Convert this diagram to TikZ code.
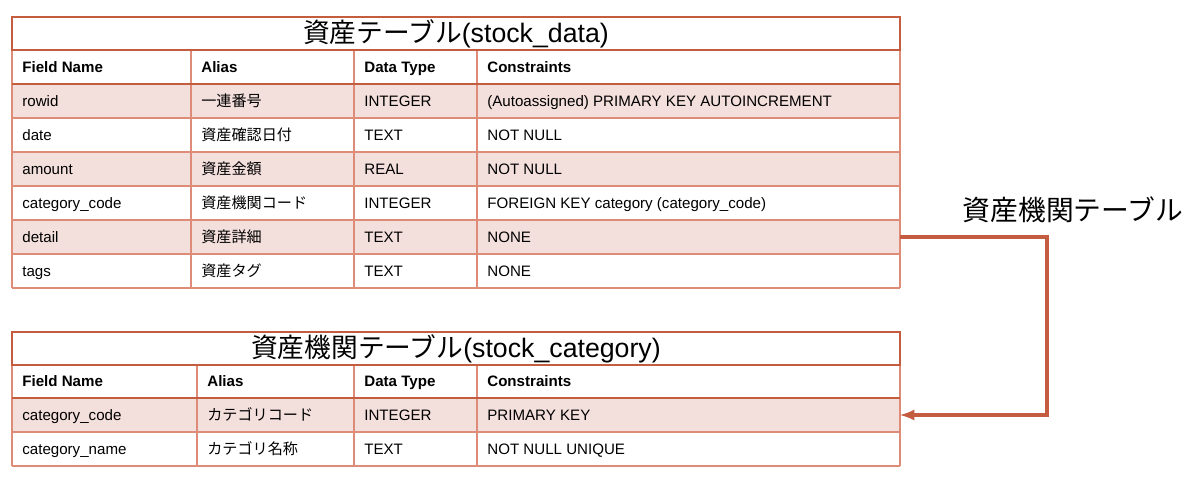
\documentclass[tikz,border=0pt]{standalone}
\usepackage{fontspec}
\setmainfont{Liberation Sans}
\newfontfamily\cjk{Noto Sans CJK JP}
\definecolor{edge}{RGB}{196,92,64}
\definecolor{rowline}{RGB}{222,140,120}
\definecolor{rowfill}{RGB}{243,223,220}
\begin{document}
\begin{tikzpicture}[x=0.02cm,y=-0.02cm]
% Styles ---
\tikzstyle{cell} = [anchor = west, inner sep = 0pt, text height = 1.6ex, text depth = 0.4ex, font = \fontsize{8.6}{10}\selectfont]
\tikzstyle{head} = [cell, font = \fontsize{8.6}{10}\selectfont\bfseries]
\tikzstyle{title} = [inner sep = 0pt, font = \fontsize{15.2}{18}\selectfont]
\tikzstyle{grid} = [draw = rowline, line width = 0.7pt]
\tikzstyle{frame} = [draw = edge, line width = 1.4pt]
\tikzstyle{link} = [-latex, draw = edge, line width = 1.8pt]
\useasboundingbox (0,0) rectangle (1200,483);
% Table 1 ---
\foreach \y in {84,152,220} \fill[rowfill] (12,\y) rectangle (900,\y+34);
\foreach \y in {118,152,186,220,254,288} \draw[grid] (12,\y) -- (900,\y);
\foreach \x in {12,191,354,477,900} \draw[grid] (\x,50) -- (\x,288);
\draw[frame] (12,17) rectangle (900,50);
\draw[frame] (12,84) -- (900,84);
\node[title] (t1) at (456,34) {{\cjk 資産テーブル}(stock\_data)};
\node[head] (h11) at (22,67) {Field Name};
\node[head] (h12) at (201,67) {Alias};
\node[head] (h13) at (364,67) {Data Type};
\node[head] (h14) at (487,67) {Constraints};
\foreach \n/\f/\a/\d/\c [count=\i] in {
  r1/rowid/一連番号/INTEGER/(Autoassigned) PRIMARY KEY AUTOINCREMENT,
  r2/date/資産確認日付/TEXT/NOT NULL,
  r3/amount/資産金額/REAL/NOT NULL,
  r4/category\_code/資産機関コード/INTEGER/FOREIGN KEY category (category\_code),
  r5/detail/資産詳細/TEXT/NONE,
  r6/tags/資産タグ/TEXT/NONE} {
  \node[cell] (\n f) at (22,67+34*\i) {\f};
  \node[cell] (\n a) at (201,67+34*\i) {\cjk \a};
  \node[cell] (\n d) at (364,67+34*\i) {\d};
  \node[cell] (\n c) at (487,67+34*\i) {\c};
}
% Table 2 ---
\fill[rowfill] (12,398) rectangle (900,432);
\foreach \y in {432,466} \draw[grid] (12,\y) -- (900,\y);
\foreach \x in {12,197,354,477,900} \draw[grid] (\x,365) -- (\x,466);
\draw[frame] (12,332) rectangle (900,365);
\draw[frame] (12,398) -- (900,398);
\node[title] (t2) at (456,349) {{\cjk 資産機関テーブル}(stock\_category)};
\node[head] (h21) at (22,381) {Field Name};
\node[head] (h22) at (207,381) {Alias};
\node[head] (h23) at (364,381) {Data Type};
\node[head] (h24) at (487,381) {Constraints};
\foreach \n/\f/\a/\d/\c [count=\i] in {
  s1/category\_code/カテゴリコード/INTEGER/PRIMARY KEY,
  s2/category\_name/カテゴリ名称/TEXT/NOT NULL UNIQUE} {
  \node[cell] (\n f) at (22,381+34*\i) {\f};
  \node[cell] (\n a) at (207,381+34*\i) {\cjk \a};
  \node[cell] (\n d) at (364,381+34*\i) {\d};
  \node[cell] (\n c) at (487,381+34*\i) {\c};
}
% Link ---
\coordinate (from) at (900,237);
\coordinate (to) at (900,415);
\node[font = \cjk\fontsize{15.8}{18}\selectfont] (lbl) at (1073,210) {資産機関テーブル};
\draw[link] (from) -- (1047,237) |- (to);
\end{tikzpicture}
\end{document}
